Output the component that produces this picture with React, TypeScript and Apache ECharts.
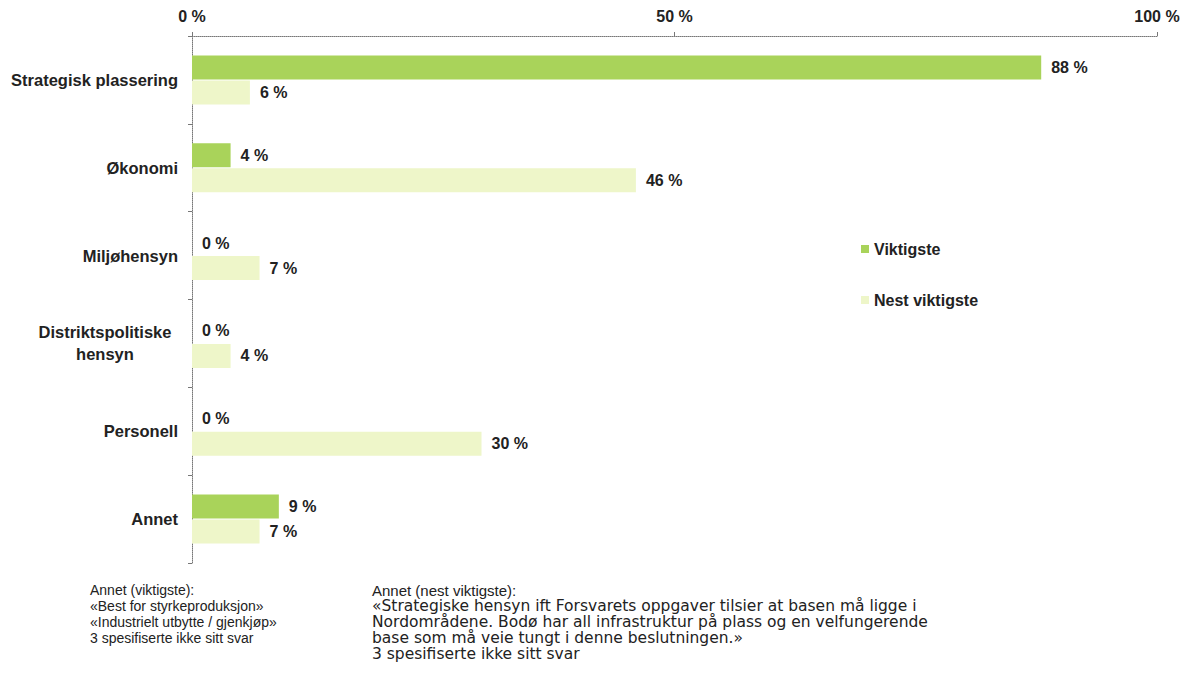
import React, { useEffect, useRef } from "react";
import * as echarts from "echarts";

const categories = [
  "Strategisk plassering",
  "Økonomi",
  "Miljøhensyn",
  "Distriktspolitiske hensyn",
  "Personell",
  "Annet",
];
const viktigste = [88, 4, 0, 0, 0, 9];
const nestViktigste = [6, 46, 7, 4, 30, 7];
const xTicks = [0, 50, 100];

const leftNotes = [
  "Annet (viktigste):",
  "«Best for styrkeproduksjon»",
  "«Industrielt utbytte / gjenkjøp»",
  "3 spesifiserte ikke sitt svar",
];
const rightTitle = "Annet (nest viktigste):";
const rightNotes = [
  "«Strategiske hensyn ift Forsvarets oppgaver tilsier at basen må ligge i",
  "Nordområdene. Bodø har all infrastruktur på plass og en velfungerende",
  "base som må veie tungt i denne beslutningen.»",
  "3 spesifiserte ikke sitt svar",
];

const GREEN = "#a9d35a";
const PALE = "#eef6c9";
const FONT = "Liberation Sans, Arial, sans-serif";

export default function App() {
  const ref = useRef<HTMLDivElement>(null);
  useEffect(() => {
    if (!ref.current) return;
    const chart = echarts.init(ref.current, undefined, { renderer: "svg" });
    const labelStyle = {
      show: true,
      position: "right" as const,
      distance: 10,
      formatter: (p: any) => `${p.value} %`,
      fontFamily: FONT,
      fontWeight: "bold" as const,
      fontSize: 16,
      color: "#222",
    };
    const graphics: any[] = [];
    leftNotes.forEach((t, i) => {
      graphics.push({
        type: "text",
        left: 90,
        top: 583 + i * 16,
        style: { text: t, font: "14px 'Liberation Sans', Arial, sans-serif", fill: "#222" },
      });
    });
    graphics.push({
      type: "text",
      left: 372,
      top: 583,
      style: { text: rightTitle, font: "15px 'Liberation Sans', Arial, sans-serif", fill: "#222" },
    });
    rightNotes.forEach((t, i) => {
      graphics.push({
        type: "text",
        left: 372,
        top: 598 + i * 16,
        style: { text: t, font: "15.5px 'DejaVu Sans', Verdana, sans-serif", fill: "#222" },
      });
    });

    chart.setOption({
      animation: false,
      backgroundColor: "#ffffff",
      grid: { left: 192, right: 35, top: 36, bottom: 111, containLabel: false },
      legend: {
        orient: "vertical",
        left: 856,
        top: 236,
        itemGap: 35,
        itemWidth: 8,
        itemHeight: 8,
        icon: "rect",
        textStyle: {
          fontFamily: FONT,
          fontWeight: "bold",
          fontSize: 16,
          color: "#222",
        },
        data: ["Viktigste", "Nest viktigste"],
      },
      xAxis: {
        type: "value",
        position: "top",
        min: 0,
        max: 100,
        interval: 50,
        splitLine: { show: false },
        axisLine: { show: true, lineStyle: { color: "#777", type: "dotted", width: 1 } },
        axisTick: { show: true, length: 4, lineStyle: { color: "#777" } },
        axisLabel: {
          margin: 12,
          formatter: (v: number) => (xTicks.includes(v) ? `${v} %` : ""),
          fontFamily: FONT,
          fontWeight: "bold",
          fontSize: 16,
          color: "#222",
        },
      },
      yAxis: {
        type: "category",
        inverse: true,
        data: categories,
        axisLine: { show: true, lineStyle: { color: "#777", type: "dotted", width: 1 } },
        axisTick: { show: true, length: 4, lineStyle: { color: "#777" } },
        axisLabel: {
          margin: 14,
          fontFamily: FONT,
          fontWeight: "bold",
          fontSize: 16.5,
          color: "#222",
          lineHeight: 22,
          formatter: (v: string) =>
            v === "Distriktspolitiske hensyn"
              ? "{c|Distriktspolitiske}\n{c|hensyn}"
              : v,
          rich: {
            c: {
              width: 146,
              align: "center",
              fontFamily: FONT,
              fontWeight: "bold",
              fontSize: 16.5,
              color: "#222",
              lineHeight: 22,
            },
          },
        },
      },
      series: [
        {
          name: "Viktigste",
          type: "bar",
          data: viktigste,
          barWidth: 24,
          barGap: "4%",
          itemStyle: { color: GREEN },
          label: labelStyle,
        },
        {
          name: "Nest viktigste",
          type: "bar",
          data: nestViktigste,
          barWidth: 24,
          itemStyle: { color: PALE },
          label: labelStyle,
        },
      ],
      graphic: graphics,
    });
    return () => chart.dispose();
  }, []);
  return (
    <div
      ref={ref}
      style={{ position: "fixed", left: 0, top: 0, width: 1192, height: 674 }}
    />
  );
}
